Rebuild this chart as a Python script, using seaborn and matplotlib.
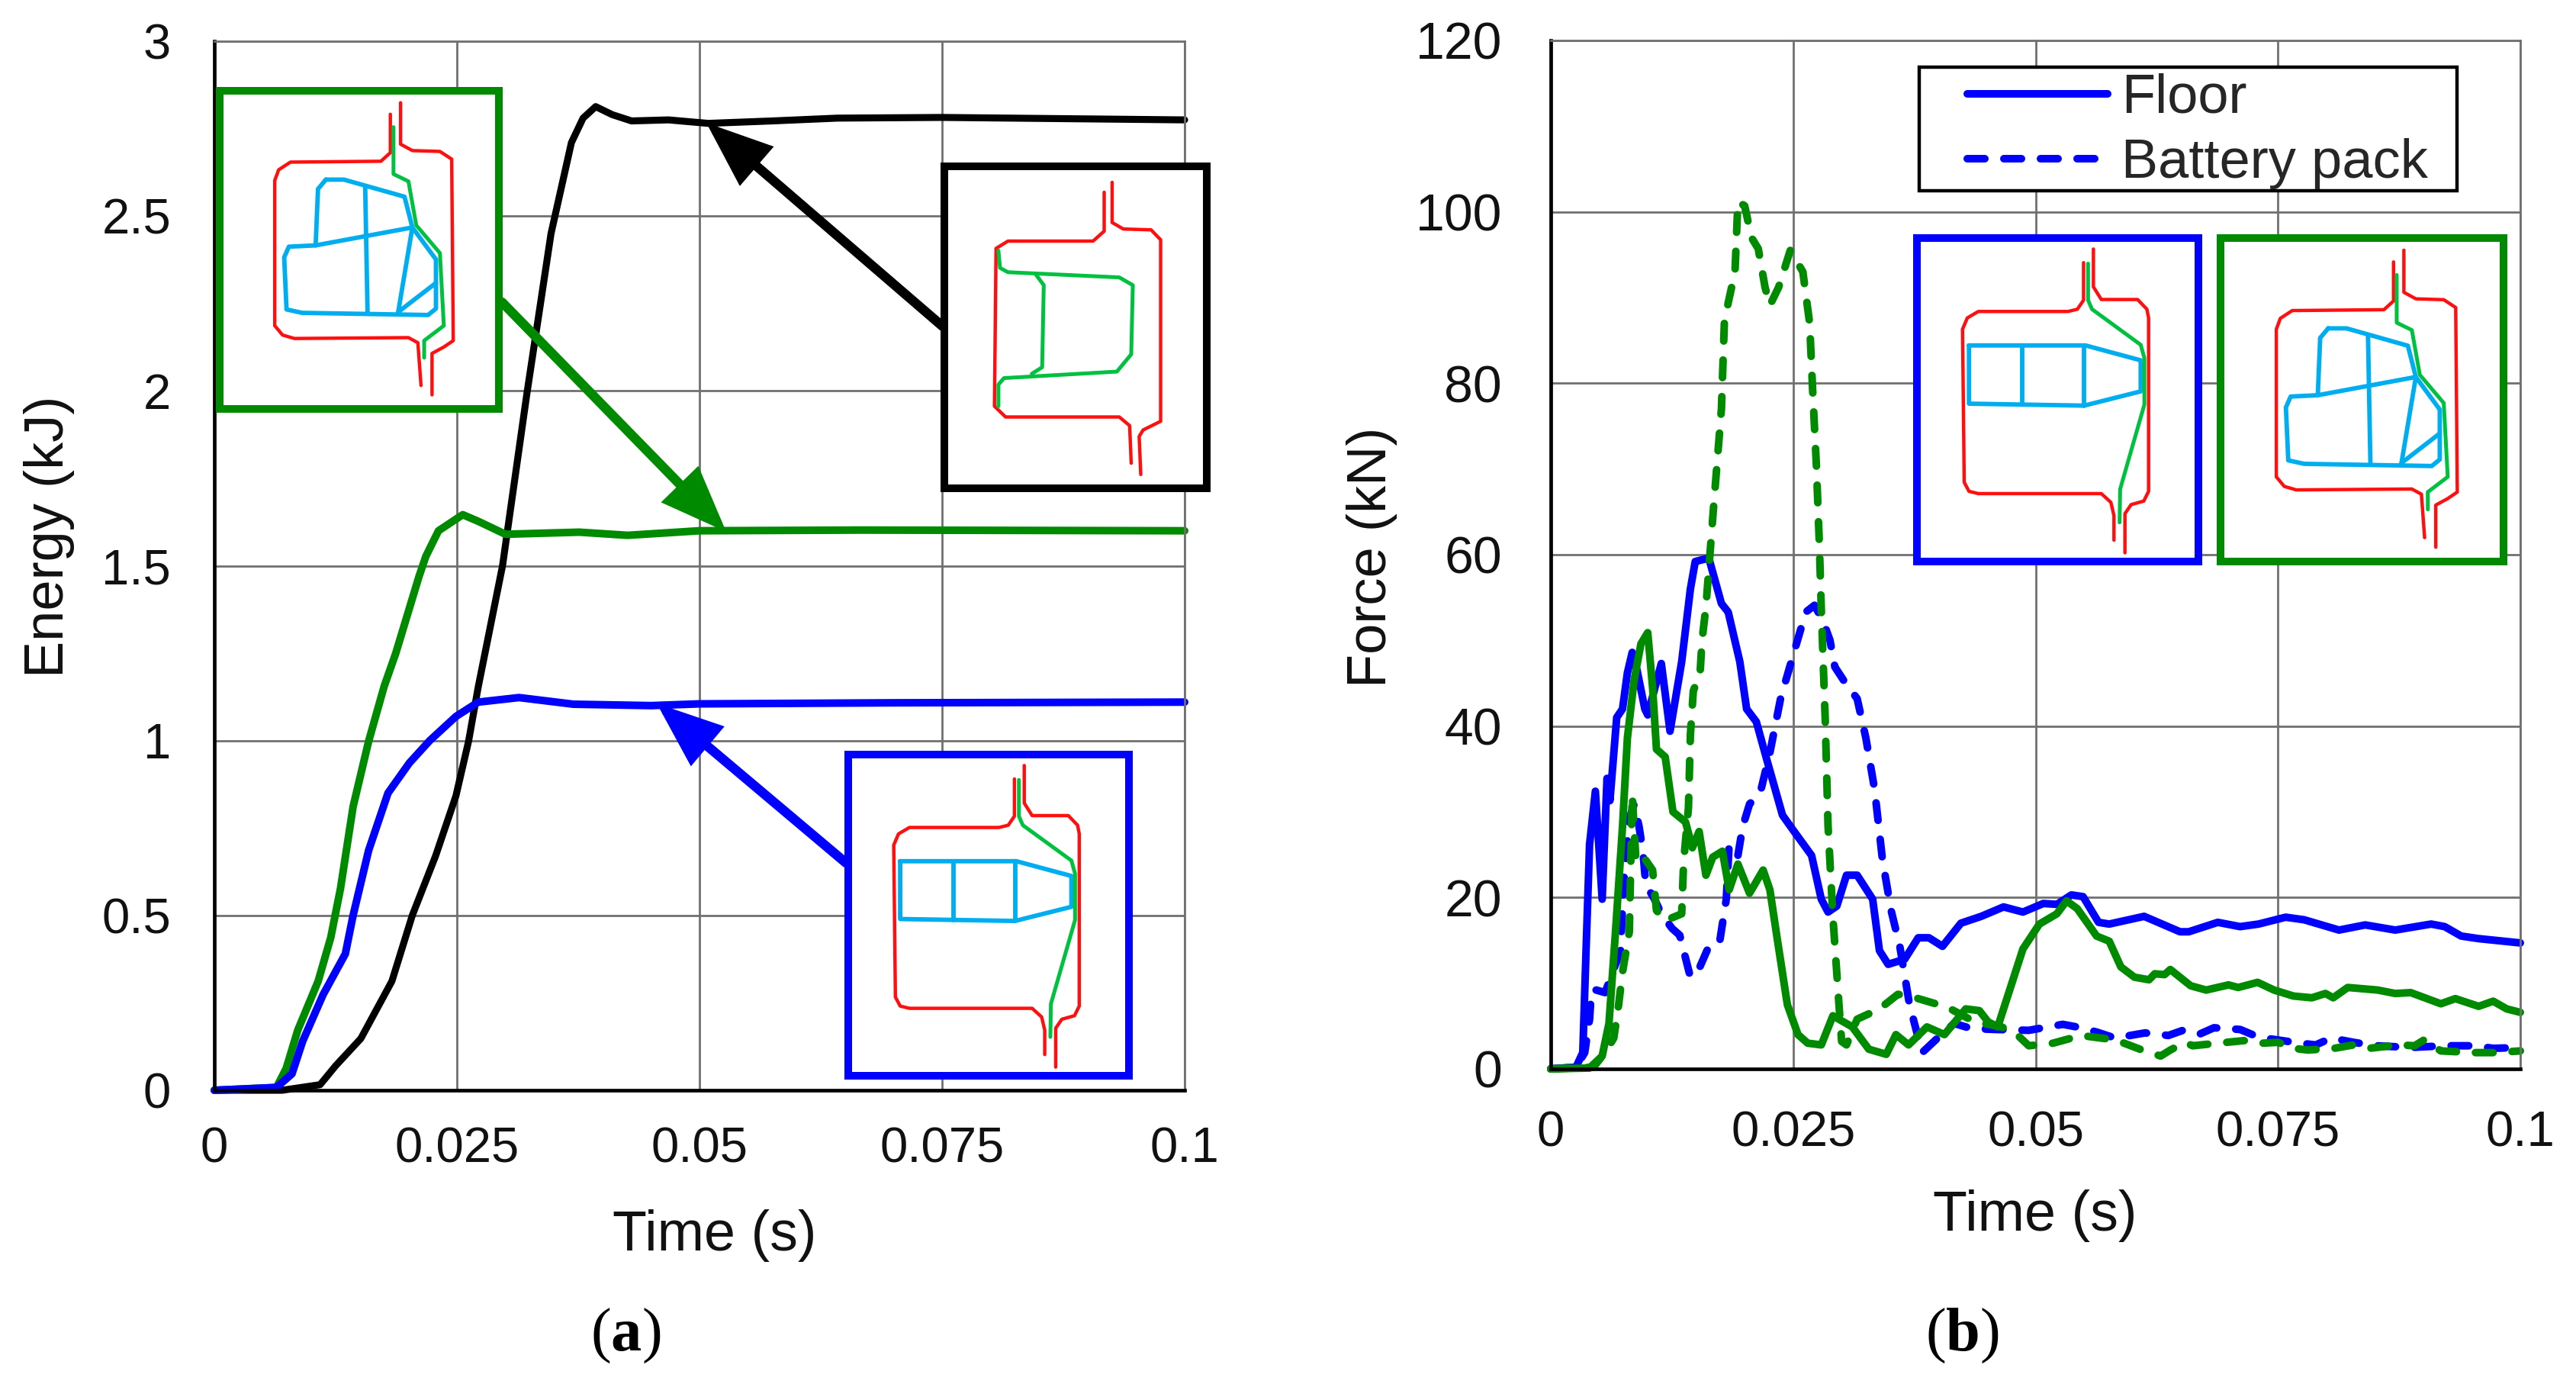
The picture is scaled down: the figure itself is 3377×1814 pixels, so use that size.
import matplotlib
matplotlib.use("Agg")
import matplotlib.pyplot as plt
import seaborn as sns
from matplotlib.lines import Line2D
from matplotlib.patches import Rectangle

W, H = 3377, 1814
DPI = 100

# (a) energy curves
t_black = [0, .007, .0109, .0125, .0151, .0183, .0204, .0228, .0249, .0262, .0272, .0297, .0322, .0347, .0368,
           .038, .0393, .041, .043, .0468, .0509, .0575, .0642, .075, .1]
e_black = [0, 0, .016, .07, .148, .312, .5, .67, .842, .998, 1.154, 1.5, 1.99, 2.45, 2.71,
           2.78, 2.813, 2.79, 2.772, 2.775, 2.765, 2.772, 2.78, 2.782, 2.775]
t_green = [0, .0064, .0074, .0086, .0107, .012, .013, .0143, .0159, .0175, .0187, .0211, .0218, .0231, .0256,
           .0272, .030, .0376, .0426, .05, .0667, .1]
e_green = [0, .008, .062, .172, .312, .437, .577, .811, .998, 1.155, 1.25, 1.47, 1.527, 1.60, 1.646,
           1.627, 1.59, 1.596, 1.587, 1.60, 1.602, 1.60]
t_blue = [0, .0064, .008, .0091, .0112, .0135, .0143, .0159, .0179, .0201, .0222, .0249, .0272, .0314, .037,
          .045, .05, .07, .1]
e_blue = [0, .008, .047, .14, .273, .39, .5, .686, .85, .936, 1.0, 1.069, 1.11, 1.123, 1.104,
          1.1, 1.105, 1.108, 1.11]

# (b) force curves
t_floor_blue = [0, .0026, .0033, .0037, .004, .0046, .0053, .0058, .0061, .0068, .0074, .0079, .0084, .0089, .0097,
                .01, .0114, .0123, .0135, .0144, .0149, .0163, .0176, .0183, .0195, .0202, .0212, .0223, .0239,
                .0251, .0269, .0279, .0286, .0295, .0305, .0316, .0332, .0339, .0348, .0365, .0379, .039, .0404,
                .0423, .0444, .0467, .0487, .0508, .0522, .0537, .0549, .0565, .0576, .0612, .0649, .0658, .0688,
                .0711, .073, .0758, .0777, .0813, .084, .0871, .0908, .0922, .0939, .0957, .1]
f_floor_blue = [0, .2, 1.9, 16, 26.2, 32.4, 19.8, 33.9, 31.3, 41, 42, 46.2, 48.6, 46.5, 42,
                41.3, 47.3, 39.4, 47.5, 56, 59.2, 59.6, 54.3, 53.3, 47.5, 42, 40.5, 36, 29.6,
                27.7, 24.9, 19.8, 18.3, 19, 22.6, 22.6, 19.8, 13.8, 12.2, 12.8, 15.3, 15.3, 14.3,
                17, 17.8, 18.9, 18.3, 19.3, 19.2, 20.3, 20.1, 17.1, 16.9, 17.8, 16, 16, 17.1,
                16.6, 16.9, 17.7, 17.4, 16.2, 16.8, 16.2, 16.9, 16.6, 15.5, 15.2, 14.7]
t_floor_green = [0, .004, .0053, .006, .0067, .0074, .0079, .0086, .0093, .01, .0105, .0109, .0118, .0126, .0139,
                 .0146, .0153, .016, .0167, .0177, .0184, .0193, .0205, .0219, .0226, .0233, .0244, .0255, .0265,
                 .0279, .0291, .0311, .0328, .0346, .0356, .0369, .0388, .0406, .0428, .0442, .0451, .0461, .0487,
                 .0504, .0522, .0532, .0543, .0563, .0576, .0588, .0602, .0617, .0623, .0633, .0639, .066, .0676,
                 .0699, .0709, .0729, .0746, .0766, .0785, .0799, .0807, .0822, .0853, .0871, .0887, .0918, .0933,
                 .0957, .0972, .0986, .1]
f_floor_green = [0, .1, 1.5, 5.3, 16.4, 28.3, 38.6, 45.4, 49.6, 50.9, 44.5, 37.3, 36.4, 30, 28.8,
                 25.8, 27.7, 22.6, 24.7, 25.4, 20.9, 23.9, 20.5, 23.2, 20.9, 15.6, 7.5, 4, 3,
                 2.8, 6.2, 4.9, 2.3, 1.7, 4, 2.8, 4.9, 4, 7, 6.8, 5.5, 4.9, 14,
                 16.9, 18.1, 19.6, 18.7, 15.5, 14.9, 11.9, 10.7, 10.4, 11.1, 11, 11.6, 9.7, 9.2,
                 9.8, 9.5, 10.1, 9.2, 8.5, 8.3, 8.8, 8.3, 9.5, 9.2, 8.8, 8.9, 7.6, 8.2,
                 7.3, 7.9, 7, 6.6]
t_pack_blue = [0, .0026, .0035, .004, .0042, .0047, .0056, .0072, .0075, .0081, .0086, .0091, .0095, .0098, .0107,
               .0114, .0125, .0133, .0144, .0153, .0163, .0174, .0181, .0184, .0193, .0198, .0205, .0216, .0226,
               .0237, .0249, .0263, .0272, .0281, .0288, .0293, .0304, .0316, .0325, .0334, .0342, .0351, .036,
               .037, .0383, .0399, .0416, .0434, .0459, .0493, .0528, .0547, .0563, .0582, .0613, .0637, .0652,
               .0668, .0684, .0711, .073, .0773, .0789, .0805, .0828, .0851, .0887, .0922, .0953, .0972, .1]
f_pack_blue = [0, .2, 1.9, 5.8, 9.2, 9.2, 8.9, 13.8, 21.5, 29.2, 30.9, 28.3, 25.4, 21.5, 19.8,
               18.1, 16.4, 15.6, 10.7, 11.7, 14.3, 14.7, 19.8, 26.2, 24.9, 28.3, 30.9, 32.2, 36.9,
               43.2, 47.9, 53.3, 54.1, 52.2, 50, 46.9, 45, 43.2, 38.6, 32.6, 24.5, 18.5, 14.3,
               7.5, 1.9, 3.6, 5.3, 4.7, 4.6, 4.5, 5.2, 4.8, 4.3, 3.6, 4.2, 3.9, 4.5,
               4, 4.8, 4.6, 3.7, 3, 2.8, 3.6, 3.1, 2.7, 2.5, 2.7, 2.7, 2.4, 2.5]
t_pack_green = [0, .0044, .0056, .0065, .007, .0074, .0081, .0084, .0088, .0097, .0105, .0109, .0118, .0135, .0137,
                .0142, .0144, .0147, .0154, .0156, .016, .0168, .0176, .0179, .0183, .019, .0193, .02, .0207,
                .0214, .0221, .0226, .0235, .0247, .026, .0267, .027, .0274, .0277, .0279, .0283, .0286, .0291,
                .0297, .03, .0305, .0316, .0339, .0358, .037, .0409, .0437, .0465, .0479, .0493, .0518, .0547,
                .0567, .0582, .061, .0629, .0639, .0654, .0662, .0688, .0715, .0734, .075, .0766, .0781, .0808,
                .0828, .0844, .0875, .0891, .0901, .0918, .0953, .0974, .1]
f_pack_green = [0, .2, 1.9, 3.6, 7.5, 11.3, 16, 32, 24, 24.5, 23.2, 18.5, 17.3, 18.1, 24.1,
                30.5, 39, 44.1, 46.2, 50, 53.9, 65.7, 77, 87, 89.4, 93, 101.2, 100.7, 97,
                95.7, 91.2, 89.1, 91.2, 95.5, 93, 87, 79.4, 70.3, 61.2, 53.7, 41, 28.3, 17.7,
                7.9, 3.2, 2.8, 5.8, 7, 8.7, 8.5, 7.2, 5.5, 4.9, 4.2, 2.7, 3, 3.9,
                3.6, 3.4, 2.2, 1.5, 2.2, 3.1, 2.7, 3, 3.3, 3, 3.1, 2.4, 2.2, 2.4,
                2.8, 2.4, 2.8, 2.7, 3.4, 2.1, 1.9, 1.9, 2.1]

x_ticks = [0, .025, .05, .075, .1]
x_labels = ["0", "0.025", "0.05", "0.075", "0.1"]
energy_ticks = [0, .5, 1, 1.5, 2, 2.5, 3]
energy_labels = ["0", "0.5", "1", "1.5", "2", "2.5", "3"]
force_ticks = [0, 20, 40, 60, 80, 100, 120]

BLUE = "#0000FF"
GREEN = "#008A00"
RED = "#FF1010"
LGREEN = "#00C040"
CYAN = "#00AEEF"
GRID = "#707070"
DASH = (0, (2.3, 2.5))

# schematics, in unit box coordinates (x right, y down)
SHAPE_A = {
    "red": [[(.592, .076), (.592, .192), (.570, .220), (.537, .227), (.218, .227), (.179, .247), (.162, .282),
             (.168, .755), (.185, .783), (.218, .790), (.655, .790), (.689, .817), (.700, .858), (.700, .934)],
            [(.627, .034), (.627, .151), (.655, .190), (.784, .190), (.817, .220), (.823, .247), (.823, .783),
             (.806, .813), (.761, .824), (.739, .852), (.739, .973)]],
    "green": [[(.608, .079), (.608, .192), (.622, .220), (.795, .330), (.808, .371), (.808, .515), (.722, .776),
               (.72, .879)]],
    "cyan": [[(.185, .332), (.599, .332), (.795, .378), (.795, .474), (.594, .518), (.185, .512), (.185, .332)],
             [(.375, .332), (.375, .515)], [(.594, .332), (.594, .518)]],
}
box_b = lambda pts: [((x - 270) / 355, (y - 200) / 745) for x, y in pts]
SHAPE_B = {
    "red": [box_b([(487, 255), (487, 345), (475, 365), (360, 367), (345, 385), (340, 410), (340, 750), (350, 772),
                   (365, 780), (510, 778), (522, 790), (526, 890)]),
            box_b([(500, 228), (500, 325), (515, 340), (550, 342), (565, 360), (567, 785), (555, 800), (540, 815),
                   (540, 912)])],
    "green": [box_b([(491, 285), (491, 395), (510, 412), (520, 515), (550, 580), (555, 750), (530, 785),
                     (530, 825)])],
    "cyan": [box_b([(405, 408), (428, 408), (505, 448), (515, 520), (545, 595), (545, 710), (535, 725), (375, 720),
                    (355, 712), (352, 590), (358, 565), (392, 562), (395, 430), (405, 408)]),
             box_b([(392, 562), (515, 520)]), box_b([(455, 425), (458, 718)]),
             box_b([(515, 520), (497, 718)]), box_b([(497, 718), (545, 650)])],
}
box_c = lambda pts: [((x - 1175) / 330, (y - 375) / 745) for x, y in pts]
SHAPE_C = {
    "red": [box_c([(1376, 435), (1376, 525), (1362, 548), (1255, 548), (1240, 565), (1238, 930), (1252, 955),
                   (1395, 955), (1408, 975), (1410, 1062)]),
            box_c([(1386, 412), (1386, 505), (1400, 520), (1435, 522), (1447, 545), (1447, 965), (1425, 985),
                   (1420, 1000), (1422, 1088)])],
    "green": [box_c([(1243, 570), (1245, 610), (1255, 620), (1395, 632), (1412, 650), (1410, 810), (1392, 850),
                     (1250, 865), (1243, 880), (1243, 930)]),
              box_c([(1290, 625), (1300, 650), (1298, 840), (1285, 855)])],
    "cyan": [],
}

sns.set_theme(style="white")
plt.rcParams["font.family"] = ["Liberation Sans", "DejaVu Sans"]
plt.rcParams["mathtext.fontset"] = "custom"
plt.rcParams["mathtext.rm"] = "Liberation Serif"
plt.rcParams["mathtext.bf"] = "Liberation Serif:bold"


def fx(px):
    return px / W


def fy(py):
    return 1 - py / H


def make_axes(fig, left, top, right, bottom):
    return fig.add_axes([fx(left), fy(bottom), (right - left) / W, (bottom - top) / H])


def style_axes(ax, yticks, ylabels, ymax, xpad, ypad, ysize):
    ax.set_xlim(0, .1)
    ax.set_ylim(0, ymax)
    ax.set_xticks(x_ticks, x_labels)
    ax.set_yticks(yticks, ylabels)
    ax.grid(True, color=GRID, linewidth=2.0)
    ax.set_axisbelow(True)
    ax.tick_params(axis="both", length=0, labelsize=47, labelcolor="#111111")
    ax.tick_params(axis="x", pad=xpad)
    ax.tick_params(axis="y", pad=ypad, labelsize=ysize)
    for side in ["top", "right"]:
        ax.spines[side].set_color(GRID)
        ax.spines[side].set_linewidth(2.0)
    for side in ["left", "bottom"]:
        ax.spines[side].set_color("black")
        ax.spines[side].set_linewidth(3.4)


def draw_curve(ax, t, y, color, dashed=False, lw=7.2):
    kw = {}
    if dashed:
        kw = {"linestyle": DASH, "dash_capstyle": "round"}
    sns.lineplot(x=t, y=y, ax=ax, color=color, linewidth=lw, estimator=None, sort=False,
                 errorbar=None, legend=False, clip_on=False, **kw)


def draw_inset(fig, box, shape, edge, lw_px=10):
    left, top, right, bottom = box
    half = lw_px / 2
    ins = make_axes(fig, left + half, top + half, right - half, bottom - half)
    ins.set_xlim(0, 1)
    ins.set_ylim(1, 0)
    ins.set_xticks([])
    ins.set_yticks([])
    ins.set_facecolor("white")
    for sp in ins.spines.values():
        sp.set_color(edge)
        sp.set_linewidth(lw_px * .72)
    for pts in shape["red"]:
        ins.plot(*zip(*pts), color=RED, lw=3.2)
    for pts in shape["cyan"]:
        ins.plot(*zip(*pts), color=CYAN, lw=4.2)
    for pts in shape["green"]:
        ins.plot(*zip(*pts), color=LGREEN, lw=3.6)
    return ins


def draw_arrow(ax, start, tip, color):
    ax.annotate("", xy=(fx(tip[0]), fy(tip[1])), xytext=(fx(start[0]), fy(start[1])),
                xycoords="figure fraction", textcoords="figure fraction", annotation_clip=False,
                arrowprops=dict(arrowstyle="-|>,head_length=46,head_width=18", mutation_scale=1, lw=9,
                                color=color, shrinkA=0, shrinkB=0, joinstyle="miter"))


fig = plt.figure(figsize=(W / DPI, H / DPI), dpi=DPI, facecolor="white")

ax_a = make_axes(fig, 281, 54, 1553, 1429)
style_axes(ax_a, energy_ticks, energy_labels, 3, 34, 41, 47)
draw_curve(ax_a, t_black, e_black, "black", lw=6.6)
draw_curve(ax_a, t_green, e_green, GREEN)
draw_curve(ax_a, t_blue, e_blue, BLUE)
draw_arrow(ax_a, (1236, 428), (926, 161), "black")
draw_arrow(ax_a, (658, 396), (952, 697), GREEN)
draw_arrow(ax_a, (1109, 1131), (861, 922), BLUE)
ax_a.set_xlabel("Time (s)", fontsize=53, color="#111111")
ax_a.set_ylabel("Energy (kJ)", fontsize=52, color="#111111")
ax_a.xaxis.set_label_coords(fx(937), fy(1619), transform=fig.transFigure)
ax_a.xaxis.label.set_va("center")
ax_a.yaxis.set_label_coords(fx(65), fy(703), transform=fig.transFigure)
ax_a.yaxis.label.set_va("center")

ax_b = make_axes(fig, 2033, 53, 3304, 1401)
style_axes(ax_b, force_ticks, [str(v) for v in force_ticks], 120, 39, 46, 49)
draw_curve(ax_b, t_floor_blue, f_floor_blue, BLUE)
draw_curve(ax_b, t_pack_blue, f_pack_blue, BLUE, dashed=True)
draw_curve(ax_b, t_pack_green, f_pack_green, GREEN, dashed=True)
draw_curve(ax_b, t_floor_green, f_floor_green, GREEN)
ax_b.set_xlabel("Time (s)", fontsize=53, color="#111111")
ax_b.set_ylabel("Force (kN)", fontsize=52, color="#111111")
ax_b.xaxis.set_label_coords(fx(2668), fy(1593), transform=fig.transFigure)
ax_b.xaxis.label.set_va("center")
ax_b.yaxis.set_label_coords(fx(1798), fy(730), transform=fig.transFigure)
ax_b.yaxis.label.set_va("center")

# legend frame drawn apart so its padding can differ per side
fig.add_artist(Rectangle((fx(2516), fy(250)), (3221 - 2516) / W, (250 - 88) / H, transform=fig.transFigure,
                         facecolor="white", edgecolor="black", linewidth=3.2, zorder=4))
handles = [Line2D([], [], color=BLUE, lw=7.2, solid_capstyle="round"),
           Line2D([], [], color=BLUE, lw=7.2, linestyle=DASH, dash_capstyle="round")]
leg = fig.legend(handles, ["Floor", "Battery pack"], loc="upper left",
                 bbox_to_anchor=(fx(2579), fy(96)), bbox_transform=fig.transFigure, borderaxespad=0,
                 fontsize=52, frameon=False, handlelength=2.55, handletextpad=.25, borderpad=0, labelspacing=.25)
leg.set_zorder(5)

draw_inset(fig, (283, 114, 659, 541), SHAPE_B, GREEN)
draw_inset(fig, (1233, 213, 1587, 645), SHAPE_C, "black")
draw_inset(fig, (1107, 984, 1485, 1415), SHAPE_A, BLUE)
draw_inset(fig, (2508, 307, 2887, 741), SHAPE_A, BLUE)
draw_inset(fig, (2906, 307, 3287, 741), SHAPE_B, GREEN)

fig.text(fx(820), fy(1751), r"$\mathrm{(}\mathbf{a}\mathrm{)}$", fontsize=58, ha="center", va="center", color="black")
fig.text(fx(2572), fy(1751), r"$\mathrm{(}\mathbf{b}\mathrm{)}$", fontsize=58, ha="center", va="center", color="black")

fig.savefig("out.png", dpi=DPI)
plt.close(fig)
